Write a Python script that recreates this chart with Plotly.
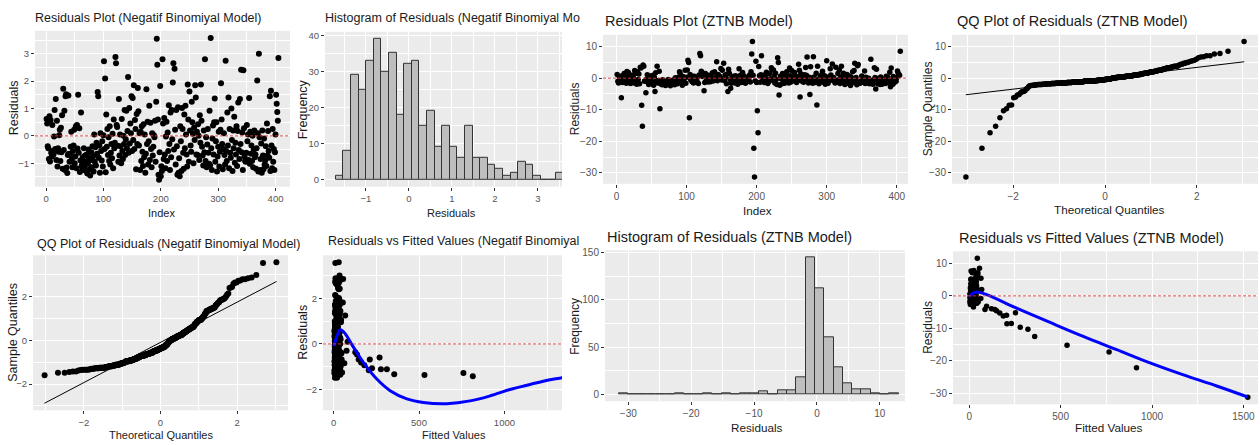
import plotly.graph_objects as go
from statistics import NormalDist

W, H = 1260, 445

# ---------------- data ----------------
nb_resid = [
    0.62, 0.45, -0.38, -0.45, -0.85, 0.72, -0.94, 0.58, -0.62, -0.75,
    0.40, -0.55, -0.68, -0.02, 0.95, -0.48, 1.35, -0.88, 0.55, -1.12,
    -0.45, -0.58, 0.02, 0.22, -0.92, 0.30, -0.60, 0.75, -1.20, 1.72,
    -0.52, 0.92, -1.25, 1.45, 1.52, -1.16, -1.36, -0.70, 1.48, -0.65,
    -0.95, -0.68, -0.40, 0.15, -0.85, -1.15, -0.55, -0.35, 0.22, -1.00,
    -0.75, 0.35, -1.18, 0.40, -0.46, 1.50, -0.62, 0.28, -1.32, -0.90,
    0.85, -1.11, -1.05, -0.78, -1.25, -0.45, -1.10, -0.72, -0.95, -1.28,
    -0.68, -1.38, -1.02, -0.50, -0.82, -1.22, -1.45, -0.88, -0.60, -1.15,
    -0.38, -0.75, -1.30, 0.05, -0.95, -0.42, -1.08, -0.25, -0.65, 1.60,
    1.45, -0.80, -0.35, -1.35, 0.10, -0.55, -0.90, -0.20, -1.12, 0.02,
    2.73, -0.48, 2.10, -1.33, 0.78, -0.40, 0.25, -0.70, -0.05, -0.92,
    0.35, -1.05, -0.62, -0.30, -0.82, 0.08, -1.18, 0.60, -0.45, -0.25,
    2.88, 2.65, 0.40, 0.32, -0.36, -0.95, 1.35, -0.72, 0.05, -0.38,
    -1.00, 0.62, -0.55, -0.85, 0.00, -0.30, 0.95, -0.70, -0.12, 0.92,
    -0.45, 0.18, 2.15, -0.62, 1.02, -0.28, 0.45, 0.10, 1.45, -0.55,
    1.38, -0.15, 1.85, -0.48, 0.58, 0.25, -1.22, 0.80, -0.30, 1.75,
    0.90, -0.35, 0.10, -1.25, 0.15, -0.92, 0.35, -0.58, -1.10, 0.42,
    -0.78, 0.05, -1.35, -0.65, 1.70, -0.30, 0.52, -1.05, -0.20, 1.10,
    -0.88, 0.48, -0.48, -1.15, 0.10, -0.72, -0.40, 0.02, -0.05, 0.55,
    -0.95, 1.25, 3.55, 2.60, 0.60, -1.42, -1.60, -0.60, 1.82, -1.48,
    -1.11, -1.28, 2.80, 0.45, -0.85, 0.65, -0.68, -1.18, -0.02, 0.52,
    -0.92, 0.12, -0.55, 1.12, -0.30, -1.25, 0.85, -0.78, 0.95, -0.12,
    1.95, 2.65, -0.50, 2.45, 0.22, -1.05, 0.95, -0.38, -1.42, 1.05,
    -1.35, -0.82, -1.48, 0.35, -0.20, -1.28, 1.02, 0.25, -0.62, -1.20,
    0.78, -0.45, 1.10, 0.05, -0.68, -1.12, 1.88, 0.60, -0.95, 1.62,
    0.20, -0.35, -0.58, 1.25, 0.50, 0.08, -1.00, 0.30, -0.15, 1.85,
    1.40, -0.68, 0.15, -0.70, 0.42, 0.00, -0.88, 0.75, -0.25, 1.88,
    0.55, -0.40, -0.72, -1.08, 0.20, -0.60, 2.80, -0.92, -0.05, -1.15,
    -0.32, 0.25, -0.62, -1.02, 0.92, -1.07, 3.58, -0.45, -1.25, -0.10,
    0.38, -0.68, 0.50, 1.37, -0.95, -0.20, 0.50, -1.30, -0.75, -0.40,
    0.15, -1.12, -0.58, 0.22, 1.92, 0.60, -0.30, -1.22, -0.48, 0.10,
    -0.70, -1.05, 2.75, -0.55, -0.92, 0.85, -0.35, 1.40, -1.18, 0.25,
    -0.62, -0.80, 1.00, -0.15, -1.28, 0.20, -0.45, 0.70, -0.98, -0.25,
    -0.68, 0.35, -1.10, 0.18, 1.22, -0.52, -0.85, 1.35, -0.30, 2.42,
    -0.60, 0.12, -1.25, 2.40, 0.28, -0.75, -0.92, -0.95, -0.62, 0.40,
    -0.20, 0.05, -0.88, 1.38, -1.02, 0.15, -0.65, -0.35, -0.92, 0.00,
    -1.15, -0.50, 0.20, -0.78, -0.68, -1.20, -0.45, 2.02, 0.10, -1.30,
    3.00, -0.05, -1.25, -0.85, -0.28, -1.35, 0.20, -0.72, -1.22, -0.10,
    -1.05, -0.90, -0.38, -1.10, 0.45, -0.72, 0.18, -0.55, -0.80, 1.45,
    -1.28, 1.65, -0.35, -1.18, 0.25, -0.95, -0.48, -1.25, -0.60, 0.05,
    1.50, 1.17, 0.87, 0.55, 2.85,
]

z_resid = [
    1.2, -1.0, -1.5, 0.5, -0.8, -1.2, -6.2, 0.8, -1.4, -0.6,
    1.5, -1.1, 0.3, -1.6, 2.1, -0.9, 1.8, -1.3, 0.6, -1.7,
    -0.5, -1.2, 1.0, 0.2, -1.5, 2.4, -0.7, 1.6, -1.9, 2.0,
    -0.4, 1.3, -1.8, 3.5, 3.2, -8.6, -15.2, 4.2, 3.8, -1.0,
    -0.8, -4.6, -0.3, 1.1, -1.4, -2.0, -0.6, -1.2, 0.7, -1.6,
    -1.1, 0.9, -2.2, 0.4, -4.2, 1.7, -0.9, 3.8, -1.5, -0.7,
    2.2, -9.7, -1.8, -1.3, -2.1, -0.5, -1.7, -1.0, -1.4, -2.3,
    -0.9, -2.0, -1.6, -0.4, -1.2, -1.9, -2.4, -1.1, -0.8, -1.7,
    -0.6, -1.3, -2.1, 0.1, -1.5, -0.7, -1.8, 0.2, -1.0, 2.0,
    1.4, -1.2, -0.5, -2.2, 0.5, -0.9, -1.4, 2.5, -1.6, 0.3,
    2.6, 5.7, 5.0, -12.5, 1.2, -0.6, 0.8, -1.1, 0.1, -1.5,
    0.6, -1.3, -0.8, -0.2, -1.0, 0.4, -1.7, 1.0, 7.8, 7.1,
    2.2, 1.9, 0.5, 0.6, -4.0, -1.4, 1.5, -0.9, 0.2, -0.7,
    -1.2, 0.9, -0.6, -1.1, 0.3, -0.4, 1.7, -0.9, -0.1, 2.0,
    -0.5, 0.4, 5.2, -0.8, 1.2, -0.3, 0.7, 0.2, 3.1, -0.6,
    2.5, -0.2, 4.7, -0.7, 1.0, 0.4, -1.8, 1.3, -4.2, 2.8,
    1.6, -0.4, -3.2, -1.6, 0.3, -1.2, 0.6, -0.8, -1.5, 0.8,
    -1.0, 0.1, -1.9, -0.9, 3.0, -0.3, 0.9, -1.4, -0.2, 1.8,
    -1.3, 0.7, -0.6, -1.6, 0.2, -1.1, -0.5, 0.0, 0.1, 1.0,
    -1.2, 2.0, 7.7, 11.6, 0.9, -22.2, -31.3, -0.8, 5.4, -1.4,
    -10.3, -17.3, 3.7, 0.8, -1.3, 1.1, 7.1, -1.0, 0.0, 0.9,
    -1.4, 0.3, -0.7, 1.9, -0.3, -1.7, 1.4, -1.0, 1.6, -0.2,
    3.3, 2.8, -0.6, 2.6, 0.5, -1.5, 1.6, -0.4, -2.0, 6.5,
    5.0, -5.3, -2.2, 0.6, -0.2, -1.8, 1.5, 0.4, -1.0, -1.6,
    1.2, -0.5, 2.0, 0.1, -0.9, -1.5, 3.2, 0.8, -1.2, 2.4,
    0.3, -0.4, -0.8, 1.8, 0.7, 0.1, -1.4, 0.5, -0.2, 4.4,
    2.5, -6.0, 1.4, -0.9, 0.6, 0.0, -1.3, 1.1, -0.3, 3.4,
    0.9, 6.7, -1.0, -1.5, 0.3, -5.2, 3.6, -1.2, 0.0, -1.6,
    6.8, 0.4, -0.8, -1.4, 1.6, -8.5, 3.8, -0.6, -1.8, -0.1,
    0.6, -1.0, 1.2, 2.2, -1.3, -0.2, 0.8, -1.9, -1.1, 5.5,
    0.3, -1.6, -0.8, 0.4, 3.0, 1.0, -0.3, 4.5, -0.7, 0.2,
    -1.0, -1.5, 3.5, -0.8, -1.3, 1.5, -0.5, 2.6, -1.7, 0.4,
    3.8, -1.1, -1.4, 1.6, -0.2, -2.0, 0.3, -0.7, 1.2, -1.6,
    -0.4, -1.1, 0.6, -2.3, 0.3, -0.8, 2.0, -1.4, 2.4, 4.7,
    -1.0, 0.2, -2.1, 3.9, 4.3, -1.2, -1.6, -1.5, -0.9, 0.7,
    -0.3, 0.1, -1.4, 2.3, -1.7, 0.3, -1.0, -0.5, -1.5, 0.0,
    -1.8, -0.7, 6.0, -1.2, -0.9, -1.9, -0.6, 3.3, 0.2, -3.4,
    2.8, -0.1, -1.8, -1.3, -0.4, -2.0, 0.4, -1.1, -1.9, -0.2,
    -1.6, -1.2, -0.6, -1.7, 0.6, -1.1, 0.3, -0.8, -1.3, 1.9,
    -2.7, 3.2, -0.5, -2.0, 0.5, -1.5, -0.8, -1.0, -1.0, 0.1,
    2.3, 1.6, 1.2, 0.9, 8.5,
]

nb_fitted = [
    12, 8, 25, 18, 63, 9, 180, 14, 30, 6, 21, 11, 35, 7, 43, 16, 10, 27, 5, 19,
    13, 24, 9, 31, 17, 6, 22, 12, 38, 8, 15, 28, 49, 10, 20, 206, 532, 26, 11, 33,
    7, 147, 19, 29, 13, 5, 23, 36, 9, 16, 40, 12, 8, 25, 137, 18, 30, 10, 22, 14,
    11, 277, 27, 6, 17, 34, 9, 21, 13, 42, 8, 19, 26, 11, 31, 7, 15, 24, 12, 37,
    10, 20, 6, 28, 14, 45, 9, 18, 32, 12, 23, 8, 16, 39, 11, 26, 7, 21, 15, 30,
    9, 35, 13, 355, 24, 8, 19, 44, 12, 27, 6, 17, 33, 10, 22, 14, 38, 8, 25, 16,
    11, 29, 7, 20, 127, 13, 36, 9, 24, 15, 41, 6, 18, 28, 12, 22, 8, 31, 16, 10,
    26, 14, 9, 34, 19, 7, 23, 12, 40, 17, 30, 8, 21, 13, 27, 10, 37, 15, 76, 11,
    24, 9, 82, 18, 32, 12, 20, 7, 28, 15, 43, 10, 22, 14, 35, 8, 19, 26, 11, 30,
    13, 21, 9, 38, 16, 25, 7, 18, 33, 12, 27, 68, 10, 20, 15, 815, 1525, 29, 54, 8,
    312, 760, 24, 11, 36, 17, 47, 9, 22, 14, 31, 7, 19, 28, 12, 39, 16, 25, 10, 21,
    34, 13, 8, 26, 18, 30, 11, 23, 15, 44, 9, 161, 20, 12, 29, 7, 17, 27, 14, 37,
    10, 22, 16, 33, 8, 25, 13, 19, 40, 11, 28, 6, 21, 15, 35, 9, 18, 24, 12, 31,
    14, 212, 27, 10, 20, 38, 8, 23, 16, 29, 11, 46, 19, 13, 26, 269, 32, 9, 22, 15,
    36, 12, 18, 25, 9, 225, 30, 14, 21, 7, 27, 16, 34, 11, 19, 24, 8, 39, 13, 42,
    17, 10, 26, 15, 31, 12, 22, 37, 8, 20, 28, 11, 35, 16, 23, 9, 30, 14, 25, 18,
    33, 13, 7, 21, 16, 29, 10, 24, 18, 12, 27, 9, 20, 15, 32, 11, 23, 8, 26, 36,
    14, 19, 10, 30, 38, 12, 22, 8, 17, 25, 13, 20, 9, 28, 16, 11, 24, 15, 7, 21,
    18, 12, 41, 9, 26, 14, 20, 31, 11, 23, 35, 16, 8, 19, 13, 27, 10, 22, 15, 12,
    24, 9, 17, 13, 28, 11, 20, 14, 8, 33, 6, 30, 18, 12, 25, 10, 16, 48, 14, 21,
    29, 22, 18, 15, 56,
]

z_fitted = [
    12, 8, 25, 18, 63, 9, 186, 14, 30, 6, 21, 11, 35, 7, 43, 16, 10, 27, 5, 19,
    13, 24, 9, 31, 17, 6, 22, 12, 38, 8, 15, 28, 49, 10, 20, 206, 535, 26, 11, 33,
    7, 149, 19, 29, 13, 5, 23, 36, 9, 16, 40, 12, 8, 25, 140, 18, 30, 10, 22, 14,
    11, 279, 27, 6, 17, 34, 9, 21, 13, 42, 8, 19, 26, 11, 31, 7, 15, 24, 12, 37,
    10, 20, 6, 28, 14, 45, 9, 18, 32, 12, 23, 8, 16, 39, 11, 26, 7, 21, 15, 30,
    9, 35, 13, 358, 24, 8, 19, 44, 12, 27, 6, 17, 33, 10, 22, 14, 38, 8, 25, 16,
    11, 29, 7, 20, 122, 13, 36, 9, 24, 15, 41, 6, 18, 28, 12, 22, 8, 31, 16, 10,
    26, 14, 9, 34, 19, 7, 23, 12, 40, 17, 30, 8, 21, 13, 27, 10, 37, 15, 86, 11,
    24, 9, 95, 18, 32, 12, 20, 7, 28, 15, 43, 10, 22, 14, 35, 8, 19, 26, 11, 30,
    13, 21, 9, 38, 16, 25, 7, 18, 33, 12, 27, 68, 10, 44, 15, 915, 1524, 29, 64, 8,
    321, 765, 24, 11, 36, 17, 47, 9, 22, 14, 31, 7, 19, 28, 12, 39, 16, 25, 10, 21,
    34, 13, 8, 26, 18, 30, 11, 23, 15, 44, 9, 167, 20, 12, 29, 7, 17, 27, 14, 37,
    10, 22, 16, 33, 8, 25, 13, 19, 40, 11, 28, 6, 21, 15, 35, 9, 18, 24, 12, 31,
    14, 204, 27, 10, 20, 38, 8, 23, 16, 29, 11, 46, 19, 13, 26, 253, 32, 9, 22, 15,
    36, 12, 18, 25, 9, 230, 30, 14, 21, 7, 27, 16, 34, 11, 19, 24, 8, 39, 13, 42,
    17, 10, 26, 15, 31, 12, 22, 37, 8, 20, 28, 11, 35, 16, 23, 9, 30, 14, 25, 18,
    33, 13, 7, 21, 16, 29, 10, 24, 18, 12, 27, 9, 20, 15, 32, 11, 23, 8, 26, 36,
    14, 19, 10, 30, 38, 12, 22, 8, 17, 25, 13, 20, 9, 28, 16, 11, 24, 15, 7, 21,
    18, 12, 41, 9, 26, 14, 20, 31, 11, 23, 35, 16, 8, 19, 13, 27, 10, 22, 15, 12,
    24, 9, 17, 13, 28, 11, 20, 14, 8, 33, 6, 30, 18, 12, 25, 10, 16, 48, 14, 21,
    29, 22, 18, 15, 56,
]

nb_hist_counts = [1, 8, 29, 25, 33, 39, 30, 35, 18, 32, 33, 15, 19, 9, 15,
                  9, 6, 15, 6, 6, 4, 3, 1, 2, 5, 4, 1, 0, 0, 2]
nb_hist_start = -1.70
nb_hist_width = 0.1767

z_hist_counts = [1, 0, 0, 0, 0, 0, 1, 0, 0, 1, 0, 1, 0, 1, 1,
                 3, 0, 4, 4, 18, 145, 112, 60, 29, 12, 5, 5, 1, 0, 1]
z_hist_start = -31.45
z_hist_width = 1.482

loess_nb_x = [2, 20, 39, 68, 107, 175, 253, 331, 429, 526, 663, 799, 916, 1033, 1150, 1267, 1345, 1525]
loess_nb_y = [-0.10, 0.35, 0.62, 0.45, -0.03, -0.82, -1.54, -2.05, -2.41, -2.57, -2.62, -2.50,
              -2.28, -2.00, -1.78, -1.57, -1.48, -1.30]
loess_z_x = [2, 20, 40, 95, 259, 442, 624, 807, 989, 1172, 1354, 1524]
loess_z_y = [-0.2, 0.8, 1.2, 0.4, -3.8, -8.2, -12.5, -16.6, -20.7, -24.4, -27.8, -31.2]

qq_nb_line_x = [-3.03, 3.03]
qq_nb_line_y = [-2.88, 2.70]
qq_z_line_x = [-3.03, 3.03]
qq_z_line_y = [-5.25, 5.20]

index = list(range(1, len(nb_resid) + 1))

# ---------------- helpers ----------------
def qq(vals):
    n = len(vals)
    nd = NormalDist()
    theo = [nd.inv_cdf((i - 0.5) / n) for i in range(1, n + 1)]
    return theo, sorted(vals)

def centers(start, width, n):
    return [start + width * (k + 0.5) for k in range(n)]

FONT = "Liberation Sans, Arial, sans-serif"
# left block (horizontally compressed in the reference) vs right block sizes
SZ = {
    "L": dict(title=12.5, xtitle=11, ytitle=12.5, tick=9.5),
    "R": dict(title=14.5, xtitle=11.7, ytitle=12, tick=10),
}

fig = go.Figure()

# panel geometry in pixels: (x0, x1), (top, bottom), xrange, yrange, xdtick, ydtick, side
panels = {
    1: ((35, 290), (28, 185), [-19.2, 425.2], [-1.86, 3.84], 100, 1, "L"),
    2: ((325, 562), (29, 185), [-1.95, 3.56], [-1.95, 40.95], 1, 10, "L"),
    3: ((603, 908), (32, 182), [-19.2, 416], [-33.45, 13.75], 100, 10, "R"),
    4: ((952, 1258), (32, 182), [-3.33, 3.33], [-33.45, 13.75], 2, 10, "R"),
    5: ((33, 288), (254, 410), [-3.33, 3.33], [-3.2, 3.9], 2, 2, "L"),
    6: ((323, 562), (254, 410), [-62, 1337], [-2.91, 3.89], 500, 2, "L"),
    7: ((605, 905), (249, 401), [-33.7, 14.0], [-7.25, 152.25], 10, 50, "R"),
    8: ((953, 1258), (250, 404), [-89, 1580], [-33.45, 13.75], 500, 10, "R"),
}

layout_axes = {}
for k, (xd, yd, xr, yr, xdt, ydt, side) in panels.items():
    sfx = "" if k == 1 else str(k)
    common = dict(
        showgrid=True, gridcolor="white", gridwidth=1.1, zeroline=False,
        showline=False, ticks="outside", ticklen=3, tickwidth=1, tickcolor="#333333",
        tickfont=dict(family=FONT, size=SZ[side]["tick"], color="#555555"),
        tickmode="linear", tick0=0,
    )
    layout_axes["xaxis" + sfx] = dict(
        common, domain=[xd[0] / W, xd[1] / W], range=xr, dtick=xdt,
        anchor="y" + sfx,
        minor=dict(tick0=0, dtick=xdt / 2, showgrid=True, gridcolor="white", gridwidth=0.5, ticks=""),
    )
    layout_axes["yaxis" + sfx] = dict(
        common, domain=[1 - yd[1] / H, 1 - yd[0] / H], range=yr, dtick=ydt,
        anchor="x" + sfx,
        minor=dict(tick0=0, dtick=ydt / 2, showgrid=True, gridcolor="white", gridwidth=0.5, ticks=""),
    )

def ax(k):
    return ("x" if k == 1 else "x%d" % k), ("y" if k == 1 else "y%d" % k)

pt = dict(color="black", size=6)
pt_r = dict(color="black", size=5.5)
bar_style = dict(color="#BEBEBE", line=dict(color="#333333", width=1))

# P1 residuals vs index (NB)
xa, ya = ax(1)
fig.add_trace(go.Scatter(x=index, y=nb_resid, mode="markers", marker=pt, xaxis=xa, yaxis=ya))
# P2 histogram NB
xa, ya = ax(2)
fig.add_trace(go.Bar(x=centers(nb_hist_start, nb_hist_width, len(nb_hist_counts)), y=nb_hist_counts,
                     width=nb_hist_width, marker=bar_style, xaxis=xa, yaxis=ya))
# P3 residuals vs index (ZTNB)
xa, ya = ax(3)
fig.add_trace(go.Scatter(x=index, y=z_resid, mode="markers", marker=pt_r, xaxis=xa, yaxis=ya))
# P4 QQ ZTNB
xa, ya = ax(4)
tz, sz = qq(z_resid)
fig.add_trace(go.Scatter(x=tz, y=sz, mode="markers", marker=pt_r, xaxis=xa, yaxis=ya))
fig.add_trace(go.Scatter(x=qq_z_line_x, y=qq_z_line_y, mode="lines", line=dict(color="black", width=1),
                         xaxis=xa, yaxis=ya))
# P5 QQ NB
xa, ya = ax(5)
tn, sn = qq(nb_resid)
fig.add_trace(go.Scatter(x=tn, y=sn, mode="markers", marker=pt, xaxis=xa, yaxis=ya))
fig.add_trace(go.Scatter(x=qq_nb_line_x, y=qq_nb_line_y, mode="lines", line=dict(color="black", width=1),
                         xaxis=xa, yaxis=ya))
# P6 residuals vs fitted NB
xa, ya = ax(6)
fig.add_trace(go.Scatter(x=nb_fitted, y=nb_resid, mode="markers", marker=pt, xaxis=xa, yaxis=ya))
fig.add_trace(go.Scatter(x=loess_nb_x, y=loess_nb_y, mode="lines",
                         line=dict(color="#0000FF", width=3, shape="spline"), xaxis=xa, yaxis=ya))
# P7 histogram ZTNB
xa, ya = ax(7)
fig.add_trace(go.Bar(x=centers(z_hist_start, z_hist_width, len(z_hist_counts)), y=z_hist_counts,
                     width=z_hist_width, marker=bar_style, xaxis=xa, yaxis=ya))
# P8 residuals vs fitted ZTNB
xa, ya = ax(8)
fig.add_trace(go.Scatter(x=z_fitted, y=z_resid, mode="markers", marker=pt_r, xaxis=xa, yaxis=ya))
fig.add_trace(go.Scatter(x=loess_z_x, y=loess_z_y, mode="lines",
                         line=dict(color="#0000FF", width=3, shape="spline"), xaxis=xa, yaxis=ya))

shapes = []
for k in (1, 3, 6, 8):
    xa, ya = ax(k)
    shapes.append(dict(type="line", xref=xa + " domain", x0=0, x1=1, yref=ya, y0=0, y1=0,
                       line=dict(color="#E03A3A", width=0.9, dash="3px,2px"), layer="above"))

annotations = []
def ann(text, xp, yp, size, angle=0, xanchor="center", color="#1a1a1a"):
    annotations.append(dict(text=text, x=xp / W, y=1 - yp / H, xref="paper", yref="paper",
                            showarrow=False, textangle=angle, xanchor=xanchor, yanchor="middle",
                            font=dict(family=FONT, size=size, color=color)))

L, R = SZ["L"], SZ["R"]
# plot titles
ann("Residuals Plot (Negatif Binomiyal Model)", 33, 15, L["title"], xanchor="left")
ann("Histogram of Residuals (Negatif Binomiyal Mo", 323, 15, L["title"], xanchor="left")
ann("Residuals Plot (ZTNB Model)", 603, 18, R["title"], xanchor="left")
ann("QQ Plot of Residuals (ZTNB Model)", 955, 18, R["title"], xanchor="left")
ann("QQ Plot of Residuals (Negatif Binomiyal Model)", 35, 243, L["title"], xanchor="left")
ann("Residuals vs Fitted Values (Negatif Binomiyal", 326, 240, L["title"], xanchor="left")
ann("Histogram of Residuals (ZTNB Model)", 605, 236, R["title"], xanchor="left")
ann("Residuals vs Fitted Values (ZTNB Model)", 957, 237, R["title"], xanchor="left")

# axis titles
ann("Index", 162, 211, L["xtitle"])
ann("Residuals", 14, 106, L["ytitle"], angle=-90)
ann("Residuals", 451, 211, L["xtitle"])
ann("Frequency", 303, 107, L["ytitle"], angle=-90)
ann("Index", 757, 209, R["xtitle"])
ann("Residuals", 575, 107, R["ytitle"], angle=-90)
ann("Theoretical Quantiles", 1109, 208, R["xtitle"])
ann("Sample Quantiles", 928, 107, R["ytitle"], angle=-90)
ann("Theoretical Quantiles", 161, 435, L["xtitle"])
ann("Sample Quantiles", 13, 332, L["ytitle"], angle=-90)
ann("Fitted Values", 454, 435, L["xtitle"])
ann("Residuals", 303, 332, L["ytitle"], angle=-90)
ann("Residuals", 756, 427, R["xtitle"])
ann("Frequency", 575, 326, R["ytitle"], angle=-90)
ann("Fitted Values", 1109, 427, R["xtitle"])
ann("Residuals", 928, 327, R["ytitle"], angle=-90)

fig.update_layout(
    width=W, height=H, margin=dict(l=0, r=0, t=0, b=0),
    paper_bgcolor="white", plot_bgcolor="#EBEBEB",
    showlegend=False, bargap=0, shapes=shapes, annotations=annotations,
    **layout_axes,
)

fig.write_html("out.html")
